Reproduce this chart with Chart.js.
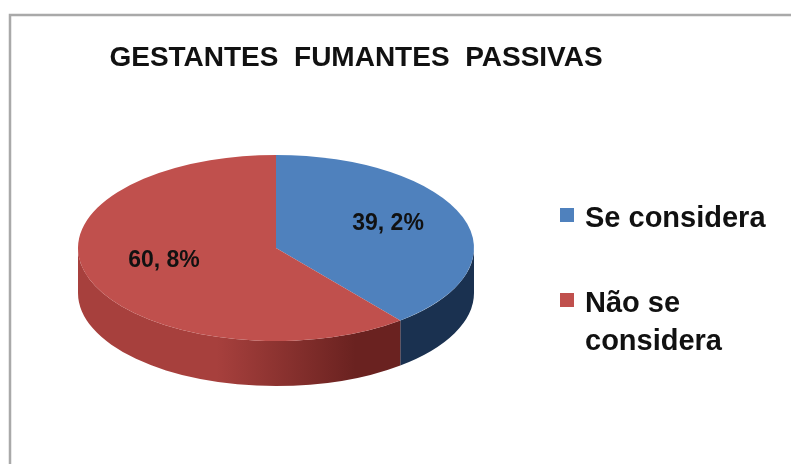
<!DOCTYPE html>
<html>
<head>
<meta charset="utf-8">
<script src="https://cdn.jsdelivr.net/npm/chart.js@4.4.1/dist/chart.umd.min.js"></script>
<style>
    html, body { margin: 0; padding: 0; background: #fff; }
    #userChart { display: block; }
</style>
</head>
<body>
<canvas id="userChart" width="791" height="464"></canvas>
<script>
// Data
const chartTitle = 'GESTANTES  FUMANTES  PASSIVAS';
const categories = ['Se considera', 'Não se considera'];
const percentages = [39.2, 60.8];

// Colours: top face and side wall for each slice
const topColors = ['#4f81bd', '#c0504d'];
const sideColors = [
    ['#284a72', '#1a3150'],
    ['#a7403d', '#6a2220']
];

// 3D look
const tilt = 0.47;   // vertical squash of the pie
const depth = 45;    // thickness of the side wall

function formatPct(v) {
    return v.toFixed(1).replace('.', ', ') + '%';
}

function wrapText(ctx, text, maxWidth) {
    const words = text.split(' ');
    const lines = [];
    let line = '';
    words.forEach(w => {
        const test = line ? line + ' ' + w : w;
        if (ctx.measureText(test).width > maxWidth && line) {
            lines.push(line);
            line = w;
        } else {
            line = test;
        }
    });
    lines.push(line);
    return lines;
}

// Draws the side wall, squashes the pie, then adds labels, title and legend
const pie3d = {
    id: 'pie3d',
    beforeDatasetsDraw(chart) {
        const ctx = chart.ctx;
        const arcs = chart.getDatasetMeta(0).data;
        const cx = arcs[0].x, cy = arcs[0].y, r = arcs[0].outerRadius;
        const ry = r * tilt;

        arcs.forEach((arc, i) => {
            // only the front half of the wall is visible
            [[0, Math.PI], [2 * Math.PI, 3 * Math.PI]].forEach(([lo, hi]) => {
                const a = Math.max(arc.startAngle, lo);
                const b = Math.min(arc.endAngle, hi);
                if (b <= a) return;
                const grad = ctx.createLinearGradient(cx - r, 0, cx + r, 0);
                grad.addColorStop(0, sideColors[i][0]);
                grad.addColorStop(0.35, sideColors[i][0]);
                grad.addColorStop(0.7, sideColors[i][1]);
                grad.addColorStop(1, sideColors[i][1]);
                ctx.save();
                ctx.beginPath();
                ctx.ellipse(cx, cy, r, ry, 0, a, b);
                ctx.lineTo(cx + r * Math.cos(b), cy + ry * Math.sin(b) + depth);
                ctx.ellipse(cx, cy + depth, r, ry, 0, b, a, true);
                ctx.closePath();
                ctx.fillStyle = grad;
                ctx.fill();
                ctx.restore();
            });
        });

        ctx.save();
        ctx.translate(cx, cy);
        ctx.scale(1, tilt);
        ctx.translate(-cx, -cy);
    },
    afterDatasetsDraw(chart) {
        const ctx = chart.ctx;
        ctx.restore();

        const arcs = chart.getDatasetMeta(0).data;
        const cx = arcs[0].x, cy = arcs[0].y, r = arcs[0].outerRadius;

        // value labels on the top face
        ctx.save();
        ctx.font = 'bold 23px "Liberation Sans", Arial, sans-serif';
        ctx.fillStyle = '#111';
        ctx.textAlign = 'center';
        ctx.textBaseline = 'middle';
        arcs.forEach((arc, i) => {
            const mid = (arc.startAngle + arc.endAngle) / 2;
            const x = cx + 0.6 * r * Math.cos(mid);
            const y = cy + tilt * 0.6 * r * Math.sin(mid) - 6;
            ctx.fillText(formatPct(percentages[i]), x, y);
        });
        ctx.restore();
    },
    afterDraw(chart) {
        const ctx = chart.ctx;
        ctx.save();

        // frame
        ctx.strokeStyle = '#a9a9a9';
        ctx.lineWidth = 2.5;
        ctx.beginPath();
        ctx.moveTo(10, chart.height + 2);
        ctx.lineTo(10, 15);
        ctx.lineTo(chart.width + 2, 15);
        ctx.stroke();

        // title
        ctx.fillStyle = '#111';
        ctx.font = 'bold 28px "Liberation Sans", Arial, sans-serif';
        ctx.textAlign = 'center';
        ctx.textBaseline = 'alphabetic';
        ctx.fillText(chartTitle, 356, 66);

        // legend
        ctx.font = 'bold 29px "Liberation Sans", Arial, sans-serif';
        ctx.textAlign = 'left';
        let y = 227;
        categories.forEach((cat, i) => {
            ctx.fillStyle = topColors[i];
            ctx.fillRect(560, y - 19, 14, 14);
            ctx.fillStyle = '#111';
            const lines = wrapText(ctx, cat, 200);
            lines.forEach((ln, j) => ctx.fillText(ln, 585, y + j * 38));
            y += 85;
        });
        ctx.restore();
    }
};

const config = {
    type: 'pie',
    data: {
        labels: categories,
        datasets: [{
            data: percentages,
            backgroundColor: topColors,
            borderWidth: 0
        }]
    },
    options: {
        responsive: false,
        devicePixelRatio: 1,
        animation: false,
        layout: {
            padding: { left: 78, right: 317, top: 50, bottom: 18 }
        },
        plugins: {
            legend: { display: false },
            title: { display: false },
            tooltip: { enabled: false }
        }
    },
    plugins: [pie3d]
};

const userChart = new Chart(
    document.getElementById('userChart'),
    config
);
</script>
</body>
</html>
